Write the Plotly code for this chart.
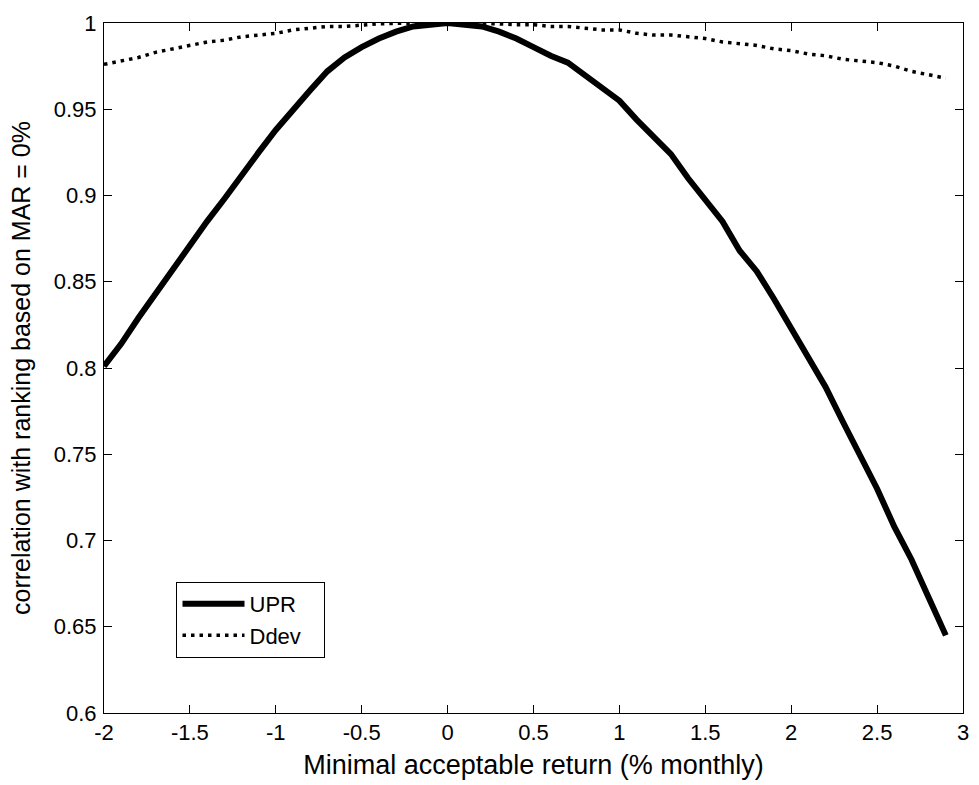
import plotly.graph_objects as go

mar = [-2.0, -1.9, -1.8, -1.7, -1.6, -1.5, -1.4, -1.3, -1.2, -1.1,
       -1.0, -0.9, -0.8, -0.7, -0.6, -0.5, -0.4, -0.3, -0.2, -0.1,
       0.0, 0.1, 0.2, 0.3, 0.4, 0.5, 0.6, 0.7, 0.8, 0.9,
       1.0, 1.1, 1.2, 1.3, 1.4, 1.5, 1.6, 1.7, 1.8, 1.9,
       2.0, 2.1, 2.2, 2.3, 2.4, 2.5, 2.6, 2.7, 2.8, 2.9]

upr = [0.801, 0.814, 0.829, 0.843, 0.858, 0.872, 0.885, 0.898, 0.912, 0.925,
       0.938, 0.950, 0.961, 0.972, 0.980, 0.986, 0.991, 0.995, 0.998, 0.999,
       1.000, 0.999, 0.998, 0.995, 0.991, 0.986, 0.981, 0.977, 0.970, 0.963,
       0.955, 0.944, 0.934, 0.924, 0.910, 0.898, 0.885, 0.868, 0.856, 0.840,
       0.823, 0.806, 0.789, 0.769, 0.749, 0.730, 0.708, 0.689, 0.667, 0.645]

ddev = [0.976, 0.978, 0.980, 0.983, 0.985, 0.987, 0.989, 0.990, 0.992, 0.993,
        0.994, 0.996, 0.997, 0.998, 0.998, 0.999, 0.9995, 0.9998, 1.000, 1.000,
        1.000, 1.000, 1.000, 0.9995, 0.999, 0.999, 0.998, 0.998, 0.997, 0.996,
        0.996, 0.994, 0.993, 0.993, 0.992, 0.991, 0.989, 0.988, 0.987, 0.985,
        0.984, 0.982, 0.981, 0.979, 0.978, 0.977, 0.975, 0.972, 0.970, 0.968]

series_names = ["UPR", "Ddev"]

x_tickvals = [-2, -1.5, -1, -0.5, 0, 0.5, 1, 1.5, 2, 2.5, 3]
x_ticktext = ["-2", "-1.5", "-1", "-0.5", "0", "0.5", "1", "1.5", "2", "2.5", "3"]
y_tickvals = [0.6, 0.65, 0.7, 0.75, 0.8, 0.85, 0.9, 0.95, 1.0]
y_ticktext = ["0.6", "0.65", "0.7", "0.75", "0.8", "0.85", "0.9", "0.95", "1"]

FONT = "Liberation Sans, Arial, sans-serif"
PAD = "\u00a0\u00a0\u00a0"

fig = go.Figure()
fig.add_trace(go.Scatter(x=mar, y=upr, mode="lines", name=series_names[0] + PAD,
                         line=dict(color="black", width=6)))
fig.add_trace(go.Scatter(x=mar, y=ddev, mode="lines", name=series_names[1] + PAD,
                         line=dict(color="black", width=3.5, dash="3.5px,5px")))

axis_common = dict(showline=True, linecolor="black", linewidth=1, mirror="ticks",
                   ticks="inside", ticklen=8, tickcolor="black", tickwidth=1,
                   showgrid=False, zeroline=False,
                   tickfont=dict(family=FONT, size=22, color="black"))

fig.update_xaxes(range=[-2, 3], tickmode="array", tickvals=x_tickvals, ticktext=x_ticktext,
                 title=dict(text="Minimal acceptable return (% monthly)",
                            font=dict(family=FONT, size=27, color="black"), standoff=10),
                 **axis_common)
fig.update_yaxes(range=[0.6, 1], tickmode="array", tickvals=y_tickvals, ticktext=y_ticktext,
                 ticklabelstandoff=2,
                 title=dict(text="correlation with ranking based on MAR = 0%",
                            font=dict(family=FONT, size=25, color="black"), standoff=16),
                 **axis_common)

fig.update_layout(
    width=979, height=785,
    margin=dict(l=104, r=10, t=23, b=72),
    plot_bgcolor="white", paper_bgcolor="white",
    font=dict(family=FONT, color="black"),
    legend=dict(x=0.0844, y=0.19, xanchor="left", yanchor="top",
                bgcolor="white", bordercolor="black", borderwidth=1,
                font=dict(family=FONT, size=22, color="black"),
                itemwidth=62),
    showlegend=True,
)

fig.write_html("out.html", config={"displayModeBar": False},
               post_script="document.body.style.margin='0';document.body.style.overflow='hidden';")
